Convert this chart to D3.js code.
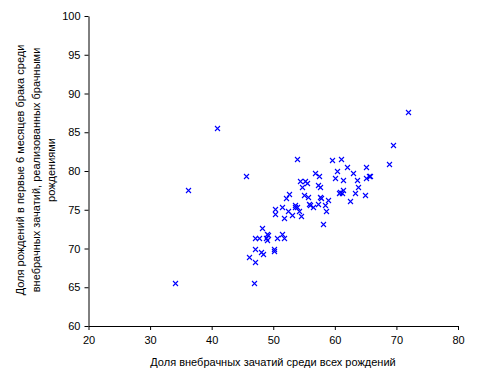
<!DOCTYPE html>
<html><head><meta charset="utf-8">
<script src="https://cdn.jsdelivr.net/npm/d3@7/dist/d3.min.js"></script>
<style>body{margin:0;background:#fff;} text{font-family:"Liberation Sans",Arial,sans-serif;}</style>
</head><body>
<svg id="c" width="490" height="388"></svg>
<script>
const xValues = [40.8,34.1,45.6,36.2,50.3,50.3,48.1,47.0,47.7,49.0,49.2,48.8,49.0,50.6,47.1,48.0,48.3,50.2,50.2,46.1,47.1,46.9,
  71.8,69.5,68.8,53.9,59.6,61.0,62.0,65.1,65.6,65.7,65.1,60.4,63.0,60.1,61.4,63.6,56.8,57.5,54.3,55.1,55.5,54.7,57.3,57.6,
  63.8,63.3,61.4,61.2,60.6,60.9,64.9,62.5,58.9,57.6,57.8,55.0,55.7,58.4,58.6,57.2,56.5,56.0,55.8,52.1,52.6,51.5,53.6,53.8,
  53.5,52.4,53.1,54.2,54.5,51.8,58.0,51.5,51.8];
const yValues = [85.5,65.5,79.3,77.6,75.1,74.4,72.7,71.3,71.3,71.9,71.7,71.4,71.1,71.4,69.9,69.6,69.3,70.0,69.7,68.9,68.2,65.5,
  87.6,83.4,80.9,81.5,81.4,81.5,80.5,80.5,79.4,79.3,79.1,80.0,79.7,79.1,78.8,78.9,79.8,79.3,78.7,78.7,78.5,77.9,78.2,77.9,
  78.0,77.2,77.5,77.1,77.1,77.3,76.9,76.1,76.3,76.6,76.5,76.9,76.6,75.6,74.8,75.8,75.3,75.6,75.8,76.5,77.0,75.3,75.6,75.4,
  75.4,74.8,74.3,74.8,74.2,74.0,73.2,71.9,71.4];
const xTicks = [20,30,40,50,60,70,80];
const yTicks = [60,65,70,75,80,85,90,95,100];
const xTitle = "Доля внебрачных зачатий среди всех рождений";
const yTitleLines = ["Доля рождений в первые 6 месяцев брака среди","внебрачных зачатий, реализованных брачными","рождениями"];

const svg = d3.select("#c");
const L = 88.5, R = 458, T = 16, B = 326;
const x = d3.scaleLinear().domain([20,80]).range([L,R]);
const y = d3.scaleLinear().domain([60,100]).range([B,T]);

const xa = svg.append("g").attr("transform",`translate(0,${B})`)
  .call(d3.axisBottom(x).tickValues(xTicks).tickSize(4).tickPadding(6).tickSizeOuter(0));
const ya = svg.append("g").attr("transform",`translate(${L},0)`)
  .call(d3.axisLeft(y).tickValues(yTicks).tickSize(4).tickPadding(4).tickSizeOuter(0));
[xa,ya].forEach(a=>{
  a.select(".domain").attr("stroke","#000").attr("stroke-width",1);
  a.selectAll("line").attr("stroke","#000");
  a.selectAll("text").attr("font-size","11px").attr("fill","#000").attr("font-family","Liberation Sans, Arial, sans-serif");
});

const pts = xValues.map((v,i)=>({x:v,y:yValues[i]}));
const s = 2.5;
svg.append("g").selectAll("path").data(pts).join("path")
  .attr("d",d=>{const cx=Math.round(x(d.x))+0.5, cy=Math.round(y(d.y))+0.5;
    return `M${cx-s},${cy-s}L${cx+s},${cy+s}M${cx-s},${cy+s}L${cx+s},${cy-s}`;})
  .attr("stroke","#0000ff").attr("stroke-width",1.1).attr("fill","none");

svg.append("text").attr("x",273).attr("y",366).attr("text-anchor","middle")
  .attr("font-size","11px").attr("fill","#000").text(xTitle);

const yt = svg.append("text").attr("transform","translate(24,170) rotate(-90)")
  .attr("text-anchor","middle").attr("font-size","11px").attr("fill","#000");
yTitleLines.forEach((t,i)=>yt.append("tspan").attr("x",0).attr("dy",i===0?0:15.5).text(t));
</script>
</body></html>
